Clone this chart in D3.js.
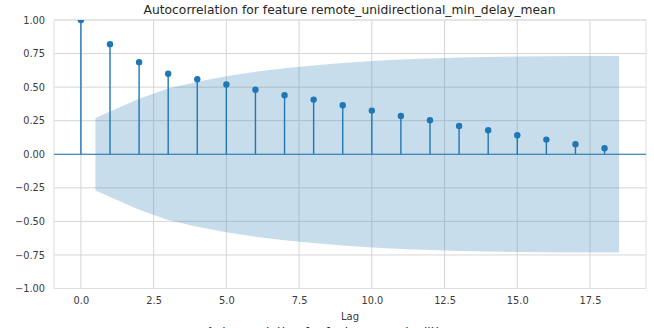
<!DOCTYPE html>
<html><head><meta charset="utf-8">
<script src="https://cdn.jsdelivr.net/npm/d3@7"></script>
<style>
html,body{margin:0;padding:0;background:#fff;}
svg{display:block;font-family:"DejaVu Sans",sans-serif;}
</style></head>
<body>
<svg id="chart" width="654" height="328"></svg>
<script>
// ---- data ----
const lags = [0,1,2,3,4,5,6,7,8,9,10,11,12,13,14,15,16,17,18];
const acfValues = [1.0,0.82,0.686,0.60,0.559,0.52,0.48,0.44,0.407,0.365,0.325,0.285,0.253,0.211,0.179,0.141,0.109,0.075,0.045];
// confidence band (half-width) at band vertices
const bandLags = [0.5,2,3,4,5,6,7,8,9,10,11,12,13,14,15,16,17,18.5];
const bandHalfWidth = [0.270,0.413,0.489,0.540,0.581,0.614,0.641,0.662,0.680,0.694,0.705,0.714,0.720,0.725,0.728,0.730,0.731,0.732];
const xTicks = [0,2.5,5,7.5,10,12.5,15,17.5];
const yTicks = [-1,-0.75,-0.5,-0.25,0,0.25,0.5,0.75,1];
const titleText = "Autocorrelation for feature remote_unidirectional_min_delay_mean";
const nextTitleText = "Autocorrelation for feature remote_jitter_mean";
const xLabel = "Lag";

const blue = "#1f77b4";
const svg = d3.select("#chart");
const m = {l:54, r:646, t:20, b:288.5};
const x = d3.scaleLinear().domain([-0.925, 19.425]).range([m.l, m.r]);
const y = d3.scaleLinear().domain([-1, 1]).range([m.b, m.t]);

svg.append("defs").append("clipPath").attr("id","clip")
  .append("rect").attr("x",m.l).attr("y",m.t).attr("width",m.r-m.l).attr("height",m.b-m.t);

// grid
const grid = svg.append("g");
grid.selectAll("line.gx").data(xTicks).join("line")
  .attr("x1",d=>x(d)).attr("x2",d=>x(d)).attr("y1",m.t).attr("y2",m.b)
  .attr("stroke","#d6d6d6").attr("stroke-width",1);
grid.selectAll("line.gy").data(yTicks).join("line")
  .attr("y1",d=>y(d)).attr("y2",d=>y(d)).attr("x1",m.l).attr("x2",m.r)
  .attr("stroke","#d6d6d6").attr("stroke-width",1);
svg.append("rect").attr("x",m.l).attr("y",m.t).attr("width",m.r-m.l).attr("height",m.b-m.t)
  .attr("fill","none").attr("stroke","#dedede").attr("stroke-width",1);

const plot = svg.append("g").attr("clip-path","url(#clip)");

// band
const area = d3.area().x((d,i)=>x(bandLags[i])).y0((d)=>y(-d)).y1(d=>y(d));
plot.append("path").datum(bandHalfWidth).attr("d",area)
  .attr("fill",blue).attr("fill-opacity",0.25);

// zero line
plot.append("line").attr("x1",m.l).attr("x2",m.r).attr("y1",y(0)).attr("y2",y(0))
  .attr("stroke",blue).attr("stroke-width",1.2);

// stems
plot.selectAll("line.stem").data(acfValues).join("line")
  .attr("x1",(d,i)=>x(lags[i])).attr("x2",(d,i)=>x(lags[i]))
  .attr("y1",y(0)).attr("y2",d=>y(d))
  .attr("stroke",blue).attr("stroke-width",1.4);
plot.selectAll("circle").data(acfValues).join("circle")
  .attr("cx",(d,i)=>x(lags[i])).attr("cy",d=>y(d)).attr("r",3.2)
  .attr("fill",blue);

// axes (tick labels only)
const fmtY = d=>d3.format(".2f")(d).replace("-","\u2212");
const yAxis = svg.append("g").attr("transform",`translate(${m.l},0)`)
  .call(d3.axisLeft(y).tickValues(yTicks).tickFormat(fmtY).tickSize(0).tickPadding(9));
const xAxis = svg.append("g").attr("transform",`translate(0,${m.b})`)
  .call(d3.axisBottom(x).tickValues(xTicks).tickFormat(d3.format(".1f")).tickSize(0).tickPadding(9));
[yAxis,xAxis].forEach(a=>{
  a.select(".domain").remove();
  a.selectAll("text").attr("font-family","DejaVu Sans").attr("font-size",9.8).attr("fill","#3a3a3a");
});

svg.append("text").attr("x",349.5).attr("y",14).attr("text-anchor","middle")
  .attr("font-size",12.3).attr("fill","#262626").text(titleText);
svg.append("text").attr("x",(m.l+m.r)/2).attr("y",320).attr("text-anchor","middle")
  .attr("font-size",10).attr("fill","#3a3a3a").text(xLabel);
svg.append("text").attr("x",(m.l+m.r)/2).attr("y",336).attr("text-anchor","middle")
  .attr("font-size",12.3).attr("fill","#262626").text(nextTitleText);
</script>
</body></html>
